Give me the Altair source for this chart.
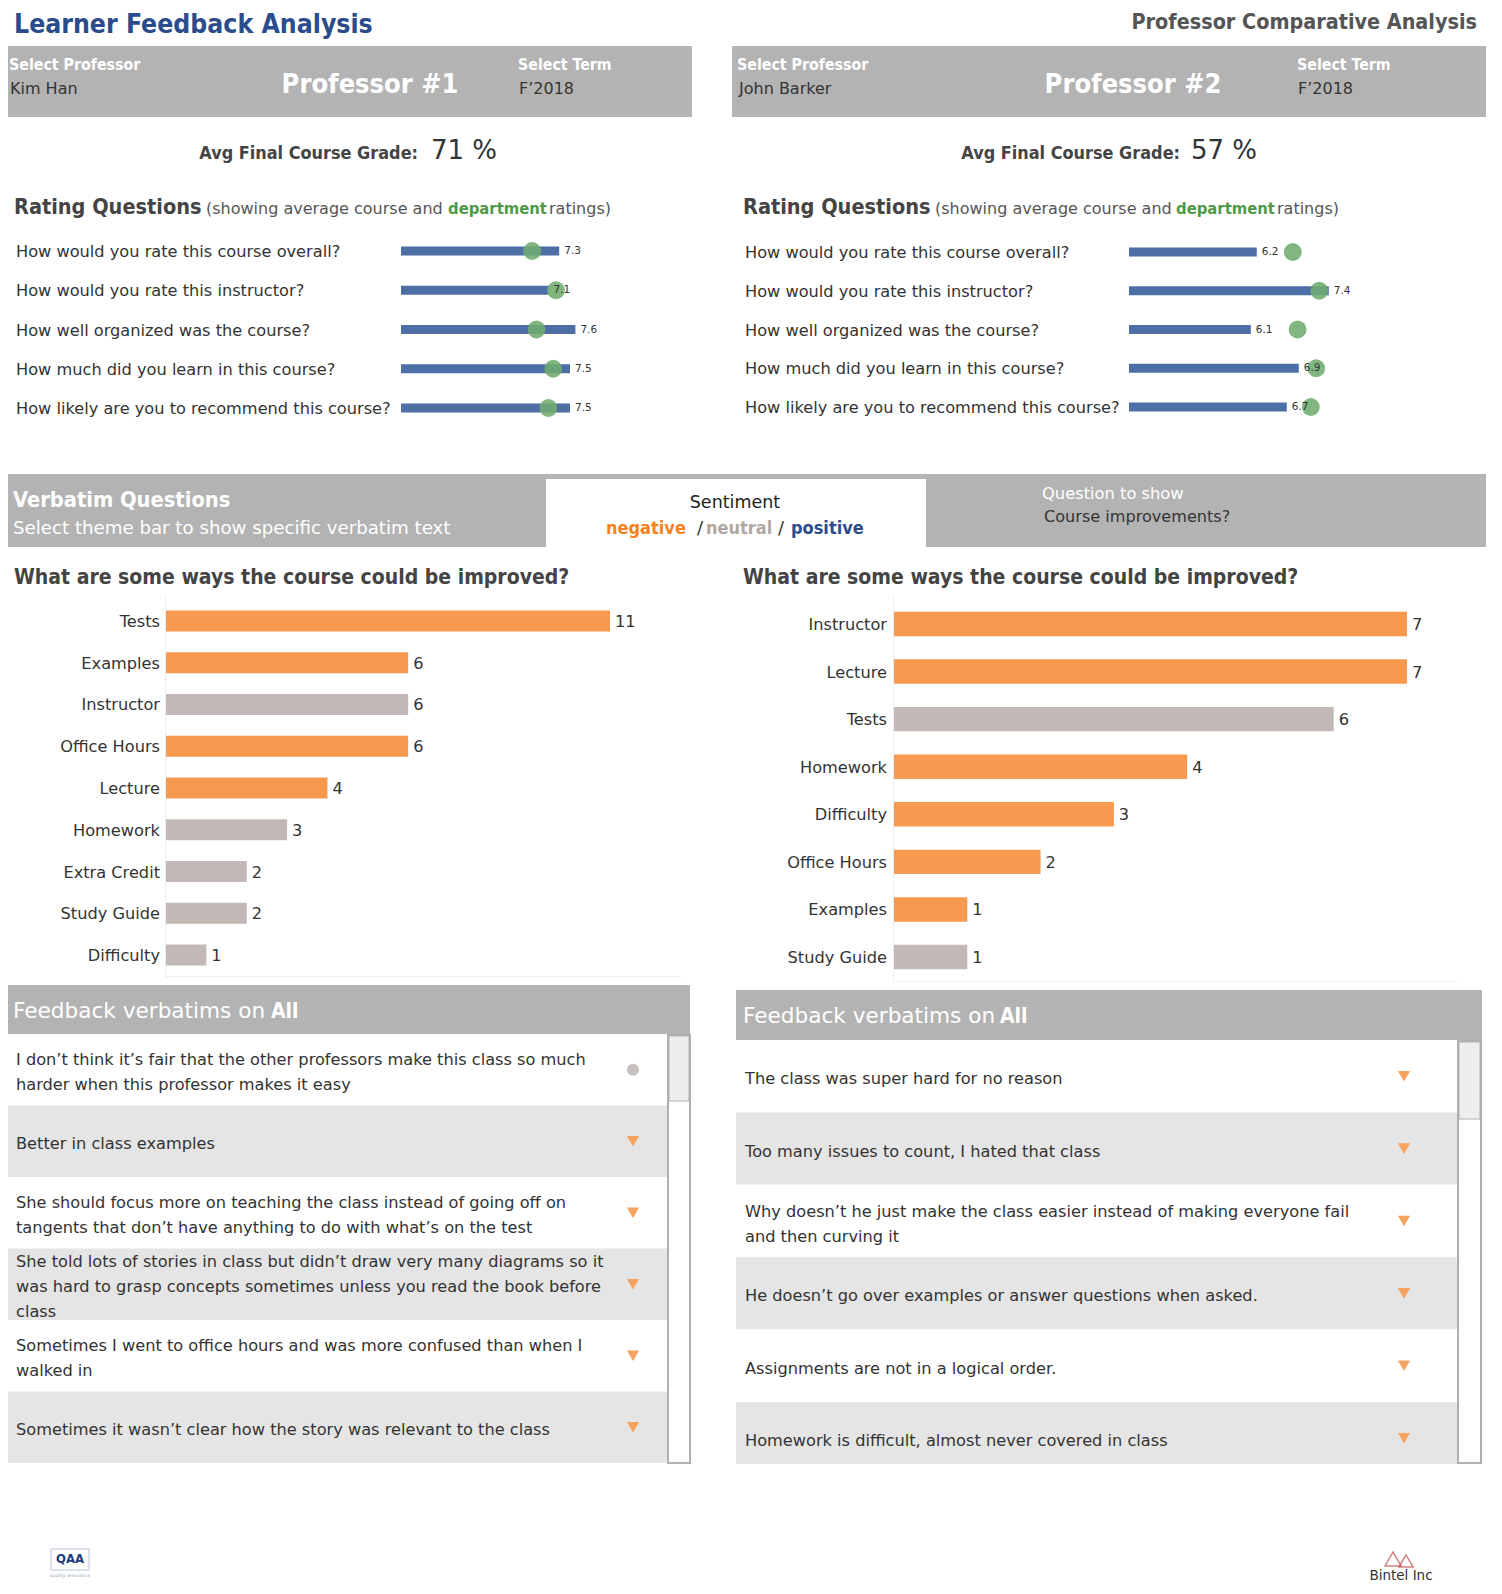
import altair as alt
import pandas as pd

FONT = "DejaVu Sans"
HFONT = "DejaVu Sans Condensed, Liberation Sans Narrow, DejaVu Sans"
W, H = 1486, 1578
BODY = 16.2

# ---------------- data ----------------
questions = [
    "How would you rate this course overall?",
    "How would you rate this instructor?",
    "How well organized was the course?",
    "How much did you learn in this course?",
    "How likely are you to recommend this course?",
]
course_p1 = [7.3, 7.1, 7.6, 7.5, 7.5]
course_p2 = [6.2, 7.4, 6.1, 6.9, 6.7]
dept_avg = [6.8, 7.24, 6.88, 7.19, 7.1]

themes_p1 = ["Tests", "Examples", "Instructor", "Office Hours", "Lecture",
             "Homework", "Extra Credit", "Study Guide", "Difficulty"]
counts_p1 = [11, 6, 6, 6, 4, 3, 2, 2, 1]
sent_p1 = ["negative", "negative", "neutral", "negative", "negative",
           "neutral", "neutral", "neutral", "neutral"]

themes_p2 = ["Instructor", "Lecture", "Tests", "Homework", "Difficulty",
             "Office Hours", "Examples", "Study Guide"]
counts_p2 = [7, 7, 6, 4, 3, 2, 1, 1]
sent_p2 = ["negative", "negative", "neutral", "negative", "negative",
           "negative", "negative", "neutral"]

verb_p1 = [
    "I don\u2019t think it\u2019s fair that the other professors make this class so much\nharder when this professor makes it easy",
    "Better in class examples",
    "She should focus more on teaching the class instead of going off on\ntangents that don\u2019t have anything to do with what\u2019s on the test",
    "She told lots of stories in class but didn\u2019t draw very many diagrams so it\nwas hard to grasp concepts sometimes unless you read the book before\nclass",
    "Sometimes I went to office hours and was more confused than when I\nwalked in",
    "Sometimes it wasn\u2019t clear how the story was relevant to the class",
]
verb_sent_p1 = ["neutral", "negative", "negative", "negative", "negative", "negative"]

verb_p2 = [
    "The class was super hard for no reason",
    "Too many issues to count, I hated that class",
    "Why doesn\u2019t he just make the class easier instead of making everyone fail\nand then curving it",
    "He doesn\u2019t go over examples or answer questions when asked.",
    "Assignments are not in a logical order.",
    "Homework is difficult, almost never covered in class",
]
verb_sent_p2 = ["negative"] * 6

# ---------------- styles ----------------
GRAY = "#b3b3b3"
BLUE_T = "#2b4c8c"
BAR_BLUE = "#4e6fa6"
DOT_GREEN = "#6fac6f"
NEG = "#f7994f"
NEU = "#c2b9b7"
POS = "#2b4c8c"
ROWGRAY = "#e5e5e5"
TXT = "#333333"
SENT_DOMAIN = ["negative", "neutral", "positive"]

base = alt.Chart(pd.DataFrame({"k": [0]}))


def rect(x, x2, y, y2, fill, stroke=None, sw=0):
    kw = dict(fill=fill)
    if stroke:
        kw.update(stroke=stroke, strokeWidth=sw)
    return base.mark_rect(**kw).encode(
        x=alt.value(x), x2=alt.value(x2), y=alt.value(y), y2=alt.value(y2))


def txt(x, y, s, size, color, weight="normal", align="left", font=FONT):
    return base.mark_text(align=align, baseline="middle", fontSize=size,
                          color=color, fontWeight=weight, font=font).encode(
        x=alt.value(x), y=alt.value(y), text=alt.value(s))


def htxt(x, y, s, size, color, align="left"):
    return txt(x, y, s, size, color, "bold", align, HFONT)


def rating_layers(course, lo, hi, r0, r1, y0, y1, qx):
    df = pd.DataFrame({"q": questions, "course": course, "dept": dept_avg})
    xs = alt.Scale(domain=[lo, hi], range=[r0, r1], zero=False, nice=False)
    ys = alt.Scale(type="point", domain=questions, range=[y0, y1], padding=0)
    Y = alt.Y("q:N", scale=ys, axis=None)
    c = alt.Chart(df)
    labels = c.mark_text(align="left", baseline="middle", font=FONT, fontSize=BODY,
                         color=TXT, dy=1).encode(x=alt.value(qx), y=Y, text="q:N")
    bars = c.mark_rule(strokeWidth=9, color=BAR_BLUE).encode(
        x=alt.X("course:Q", scale=xs, axis=None), x2=alt.value(r0), y=Y)
    dots = c.mark_circle(size=320, color=DOT_GREEN, opacity=0.88).encode(
        x=alt.X("dept:Q", scale=xs, axis=None), y=Y)
    vals = c.mark_text(align="left", baseline="middle", dx=5, fontSize=10.5,
                       font=FONT, color=TXT).encode(
        x=alt.X("course:Q", scale=xs, axis=None), y=Y,
        text=alt.Text("course:Q", format=".1f"))
    return [labels, bars, dots, vals]


def theme_layers(themes, counts, sents, hi, r0, r1, y0, y1, pin, labx):
    df = pd.DataFrame({"theme": themes, "n": counts, "s": sents})
    xs = alt.Scale(domain=[0, hi], range=[r0, r1], nice=False)
    ys = alt.Scale(type="band", domain=themes, range=[y0, y1],
                   paddingInner=pin, paddingOuter=pin / 2)
    cs = alt.Scale(domain=SENT_DOMAIN, range=[NEG, NEU, POS])
    Y = alt.Y("theme:N", scale=ys, axis=None)
    c = alt.Chart(df)
    bars = c.mark_bar().encode(
        x=alt.X("n:Q", scale=xs, axis=None), y=Y,
        color=alt.Color("s:N", scale=cs, legend=None))
    vals = c.mark_text(align="left", baseline="middle", dx=5, dy=1, fontSize=BODY,
                       font=FONT, color=TXT).encode(
        x=alt.X("n:Q", scale=xs, axis=None), y=Y, text="n:Q")
    labs = c.mark_text(align="right", baseline="middle", dy=1, fontSize=BODY,
                       font=FONT, color=TXT).encode(
        x=alt.value(labx), y=Y, text="theme:N")
    return [bars, vals, labs]


def verbatim_layers(texts, sents, x0, x1, y0, y1, mx, tx):
    n = len(texts)
    df = pd.DataFrame({"i": list(range(n)), "t": texts, "s": sents})
    ys = alt.Scale(type="band", domain=list(range(n)), range=[y0, y1],
                   paddingInner=0, paddingOuter=0)
    Y = alt.Y("i:O", scale=ys, axis=None)
    c = alt.Chart(df)
    rows = c.transform_calculate(shade="datum.i % 2").mark_rect().encode(
        x=alt.value(x0), x2=alt.value(x1), y=Y,
        color=alt.Color("shade:O", scale=alt.Scale(domain=[0, 1], range=["#ffffff", ROWGRAY]),
                        legend=None))
    out = [rows]
    LH = 25
    for nl in (1, 2, 3):
        out.append(
            c.transform_calculate(nl="length(split(datum.t, '\\n'))")
            .transform_filter(f"datum.nl == {nl}")
            .mark_text(align="left", baseline="middle", fontSize=BODY, font=FONT,
                       color=TXT, lineBreak="\n", lineHeight=LH,
                       dy=3 - (nl - 1) * LH / 2)
            .encode(x=alt.value(tx), y=Y, text="t:N"))
    marks = c.mark_point(filled=True, size=150, opacity=1).encode(
        x=alt.value(mx), y=Y,
        shape=alt.Shape("s:N", scale=alt.Scale(domain=SENT_DOMAIN,
                        range=["triangle-down", "circle", "triangle-up"]), legend=None),
        color=alt.Color("s:N", scale=alt.Scale(domain=SENT_DOMAIN,
                        range=["#f6a35f", "#c9c1bf", POS]), legend=None))
    out.append(marks)
    return out


layers = []

# ---------- top titles ----------
layers += [
    htxt(6, 17, "Learner Feedback Analysis", 26.4, BLUE_T),
    htxt(1469, 15, "Professor Comparative Analysis", 21.4, "#555555", "right"),
]

# ---------- professor header bars ----------
layers += [
    rect(0, 684, 38, 109, GRAY),
    rect(724, 1478, 38, 109, GRAY),
    htxt(1, 57, "Select Professor", 15.8, "#ffffff"),
    txt(2, 81, "Kim Han", 16, TXT),
    htxt(362, 77, "Professor #1", 27, "#ffffff", "center"),
    htxt(510, 57, "Select Term", 15.8, "#ffffff"),
    txt(511, 81, "F\u20192018", 16, TXT),
    htxt(729, 57, "Select Professor", 15.8, "#ffffff"),
    txt(731, 81, "John Barker", 16, TXT),
    htxt(1125, 77, "Professor #2", 27, "#ffffff", "center"),
    htxt(1289, 57, "Select Term", 15.8, "#ffffff"),
    txt(1290, 81, "F\u20192018", 16, TXT),
]

# ---------- avg grade ----------
layers += [
    htxt(410, 146, "Avg Final Course Grade:", 17.9, "#444444", "right"),
    txt(423, 143, "71 %", 26, TXT),
    htxt(1172, 146, "Avg Final Course Grade:", 17.9, "#444444", "right"),
    txt(1183, 143, "57 %", 26, TXT),
]

# ---------- rating headings ----------
for x0, xs_, xd, xr in [(6, 198, 440, 541), (735, 927, 1168, 1269)]:
    layers += [
        htxt(x0, 200, "Rating Questions", 21.5, "#444444"),
        txt(xs_, 201, "(showing average course and", 16, "#555555"),
        htxt(xd, 201, "department", 16.5, "#4f9a45"),
        txt(xr, 201, "ratings)", 16, "#555555"),
    ]

layers += rating_layers(course_p1, 4.37, 7.6, 393, 567.4, 243, 400, 8)
layers += rating_layers(course_p2, 4.07, 7.4, 1121, 1320.8, 244, 399, 737)

# ---------- verbatim band ----------
layers += [
    rect(0, 1478, 466, 539, GRAY),
    rect(538, 918, 471, 539, "#ffffff"),
    htxt(5, 492, "Verbatim Questions", 21.7, "#ffffff"),
    txt(5, 521, "Select theme bar to show specific verbatim text", 18.2, "#ffffff"),
    txt(727, 495, "Sentiment", 17.5, "#222222", "normal", "center"),
    htxt(598, 521, "negative", 18, "#f5821f"),
    txt(689, 521, "/", 18, TXT),
    htxt(698, 521, "neutral", 18, "#b0a6a2"),
    txt(770, 521, "/", 18, TXT),
    htxt(783, 521, "positive", 18, "#2b4c8c"),
    txt(1034, 486, "Question to show", 16.3, "#ffffff"),
    txt(1036, 509, "Course improvements?", 16.1, TXT),
]

# ---------- theme bar charts ----------
layers += [
    htxt(6, 570, "What are some ways the course could be improved?", 21, "#444444"),
    htxt(735, 570, "What are some ways the course could be improved?", 21, "#444444"),
    rect(157, 158, 588, 968, "#efefef"),
    rect(157, 673, 968, 969, "#efefef"),
    rect(885, 886, 588, 973, "#efefef"),
    rect(885, 1450, 973, 974, "#efefef"),
]
layers += theme_layers(themes_p1, counts_p1, sent_p1, 11, 158, 602,
                       592.1, 967.9, 0.497, 152)
layers += theme_layers(themes_p2, counts_p2, sent_p2, 7, 886, 1399,
                       592.2, 972.8, 0.487, 879)

# ---------- feedback verbatims ----------
layers += [
    rect(0, 682, 977, 1026, GRAY),
    txt(5, 1004, "Feedback verbatims on", 21.6, "#ffffff"),
    htxt(263, 1004, "All", 21, "#ffffff"),
    rect(728, 1474, 982, 1032, GRAY),
    txt(735, 1009, "Feedback verbatims on", 21.6, "#ffffff"),
    htxt(992, 1009, "All", 21, "#ffffff"),
]
layers += verbatim_layers(verb_p1, verb_sent_p1, 0, 659, 1026, 1455, 625, 8)
layers += verbatim_layers(verb_p2, verb_sent_p2, 728, 1450, 1032, 1466.4, 1396, 737)
layers += [
    rect(720, 1480, 1456, 1476, "#ffffff"),
    rect(660, 682, 1027, 1455, "#ffffff", "#b0b0b0", 2),
    rect(661, 681, 1028, 1093, "#eeeeee", "#b0b0b0", 1),
    rect(1450, 1473, 1033, 1455, "#ffffff", "#b0b0b0", 2),
    rect(1451, 1472, 1034, 1111, "#eeeeee", "#b0b0b0", 1),
]

# ---------- logos ----------
layers += [
    rect(43, 81, 1541, 1562, "#ffffff", "#b8c2dc", 1),
    htxt(62, 1551, "QAA", 13, "#1f3a7a", "center"),
    txt(62, 1568, "quality assurance", 4.5, "#9aa6c4", "normal", "center"),
    base.mark_point(shape="triangle-up", size=260, color="#c0504d", filled=False,
                    strokeWidth=1.5).encode(x=alt.value(1385), y=alt.value(1551)),
    base.mark_point(shape="triangle-up", size=200, color="#c0504d", filled=False,
                    strokeWidth=1.5).encode(x=alt.value(1398), y=alt.value(1553)),
    txt(1393, 1568, "Bintel Inc", 13.5, TXT, "normal", "center"),
]

chart = alt.layer(*layers).resolve_scale(
    x="independent", y="independent", color="independent", shape="independent"
).properties(
    width=W, height=H, autosize=alt.AutoSizeParams(type="none"), padding=0,
    background="#ffffff"
).configure_view(stroke=None)

chart.save("out.html", embed_options={"renderer": "svg", "actions": False})
